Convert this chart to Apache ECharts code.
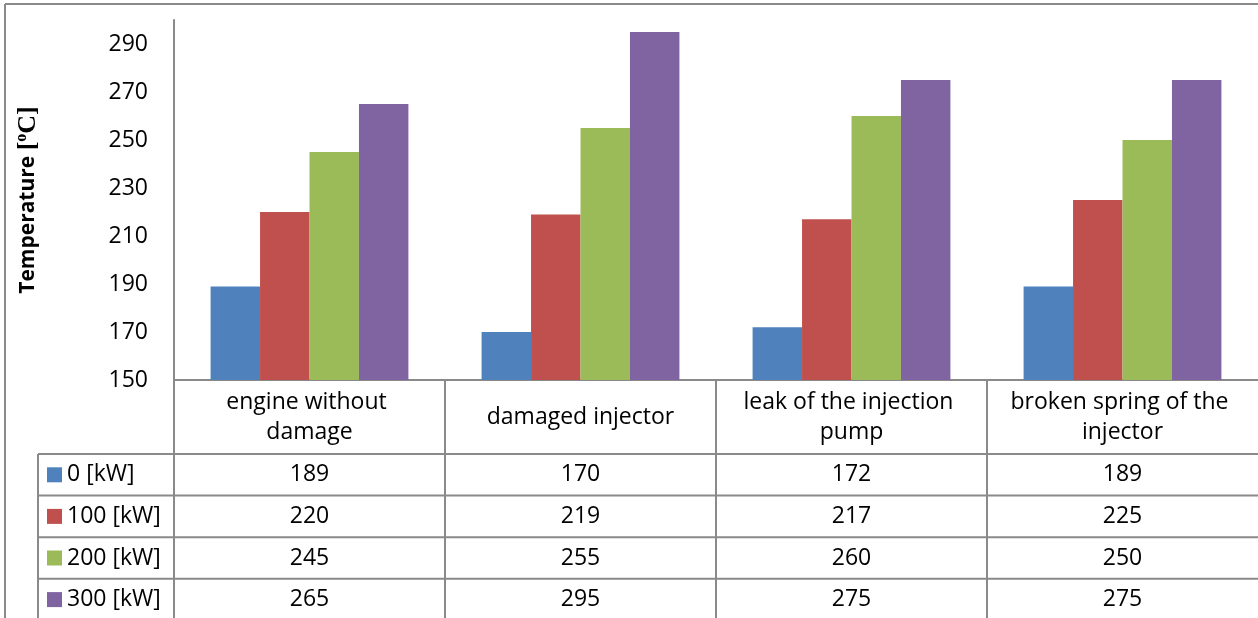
<!DOCTYPE html>
<html>
<head>
<meta charset="utf-8">
<script src="https://cdn.jsdelivr.net/npm/echarts@6/dist/echarts.min.js"></script>
<style>
html, body { margin: 0; padding: 0; background: #fff; }
#chart { width: 1258px; height: 618px; }
</style>
</head>
<body>
<div id="chart"></div>
<script>
// 数据
const categories = ['engine without damage', 'damaged injector', 'leak of the injection pump', 'broken spring of the injector']
const seriesNames = ['0 [kW]', '100 [kW]', '200 [kW]', '300 [kW]']
const kw0 = [189, 170, 172, 189]
const kw100 = [220, 219, 217, 225]
const kw200 = [245, 255, 260, 250]
const kw300 = [265, 295, 275, 275]
const colors = ['#4f81bd', '#c0504d', '#9bbb59', '#8064a2']

const values = [kw0, kw100, kw200, kw300]
const font = '"Open Sans", "DejaVu Sans", sans-serif'
const fontSize = 23
const lineColor = '#8a8a8a'

// 布局
const W = 1258, H = 618
const gridLeft = 174, gridTop = 20, axisY = 380
const colW = (W - gridLeft) / categories.length
const headerBottom = 454
const rowH = 41.6
const legendLeft = 38

const chart = echarts.init(document.getElementById('chart'))

const graphics = []
// 外框
graphics.push({ type: 'line', shape: { x1: 5, y1: 4, x2: W, y2: 4 }, style: { stroke: lineColor, lineWidth: 2 } })
graphics.push({ type: 'line', shape: { x1: 5, y1: 4, x2: 5, y2: H }, style: { stroke: lineColor, lineWidth: 2 } })
// 表格竖线
for (let i = 0; i < categories.length; i++) {
    const x = gridLeft + i * colW
    graphics.push({ type: 'line', shape: { x1: x, y1: axisY, x2: x, y2: H }, style: { stroke: lineColor, lineWidth: 2 } })
}
graphics.push({ type: 'line', shape: { x1: legendLeft, y1: headerBottom, x2: legendLeft, y2: H }, style: { stroke: lineColor, lineWidth: 2 } })
// 表格横线
for (let r = 0; r < values.length; r++) {
    const y = headerBottom + r * rowH
    graphics.push({ type: 'line', shape: { x1: legendLeft, y1: y, x2: W, y2: y }, style: { stroke: lineColor, lineWidth: 2 } })
}
// 数值单元格
values.forEach((row, r) => {
    row.forEach((v, c) => {
        graphics.push({
            type: 'text',
            x: gridLeft + (c + 0.5) * colW,
            y: headerBottom + (r + 0.5) * rowH,
            style: { text: String(v), fill: '#000', font: fontSize + 'px ' + font, align: 'center', verticalAlign: 'middle' }
        })
    })
})

const option = {
    animation: false,
    color: colors,
    grid: { left: gridLeft, top: gridTop, right: 0, bottom: H - axisY },
    legend: {
        orient: 'vertical',
        left: 47,
        top: headerBottom + rowH / 2 - 13,
        padding: 0,
        itemWidth: 15,
        itemHeight: 15,
        itemGap: rowH - 26,
        icon: 'rect',
        textStyle: { fontFamily: font, fontSize: fontSize, lineHeight: 26, color: '#000' },
        data: seriesNames
    },
    xAxis: {
        type: 'category',
        data: categories,
        axisLine: { show: true, lineStyle: { color: lineColor, width: 2 } },
        axisTick: { show: false },
        axisLabel: {
            interval: 0,
            margin: (headerBottom - axisY) / 2,
            verticalAlign: 'middle',
            width: 228,
            overflow: 'break',
            lineHeight: 30,
            fontFamily: font,
            fontSize: fontSize,
            color: '#000'
        }
    },
    yAxis: {
        type: 'value',
        min: 150,
        max: 300,
        interval: 20,
        splitLine: { show: false },
        axisLine: { show: true, lineStyle: { color: lineColor, width: 2 } },
        axisTick: { show: false },
        axisLabel: { margin: 26, showMaxLabel: false, fontFamily: font, fontSize: fontSize, color: '#000' },
        name: '{b|Temperature }{s|[}{sup|o}{s|C]}',
        nameLocation: 'middle',
        nameRotate: 90,
        nameGap: 132,
        nameTextStyle: {
            rich: {
                b: { fontFamily: font, fontWeight: 'bold', fontSize: 21, color: '#000', lineHeight: 28 },
                s: { fontFamily: '"Liberation Serif", serif', fontWeight: 'bold', fontSize: 26, color: '#000', lineHeight: 28 },
                sup: { fontFamily: '"Liberation Serif", serif', fontWeight: 'bold', fontSize: 16, color: '#000', lineHeight: 28, verticalAlign: 'top', padding: [0, 0, 6, 0] }
            }
        }
    },
    series: seriesNames.map((name, i) => ({
        name: name,
        type: 'bar',
        data: values[i],
        barGap: '0%',
        barCategoryGap: '27%',
        itemStyle: { color: colors[i] }
    })),
    graphic: graphics
}
chart.setOption(option)
</script>
</body>
</html>
